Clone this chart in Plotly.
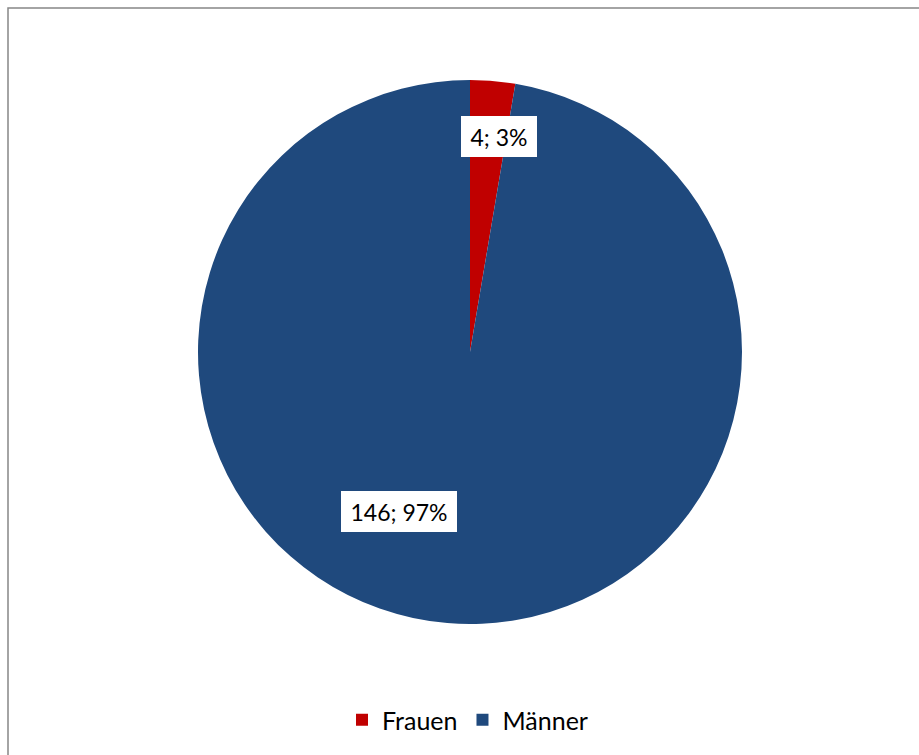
import plotly.graph_objects as go

categories = ["Frauen", "Männer"]
values = [4, 146]
colors = ["#C00000", "#1F497D"]

W, H = 919, 755
cx, cy, r = 470, 352, 272

total = sum(values)
label_texts = [f"{v}; {round(v / total * 100)}%" for v in values]
# label box centres in pixels (layout), as placed in the reference
label_px = [(499, 136.5), (399, 511.5)]
label_w = [76, 116]

fig = go.Figure(go.Pie(
    labels=categories,
    values=values,
    sort=False,
    direction="clockwise",
    rotation=0,
    marker=dict(colors=colors, line=dict(width=0)),
    textinfo="none",
    hoverinfo="label+value+percent",
    domain=dict(x=[(cx - r) / W, (cx + r) / W], y=[1 - (cy + r) / H, 1 - (cy - r) / H]),
))

annotations = []
for t, (px, py), w in zip(label_texts, label_px, label_w):
    annotations.append(dict(
        text=t, xref="paper", yref="paper", x=px / W, y=1 - py / H,
        xanchor="center", yanchor="middle", showarrow=False,
        bgcolor="white", borderpad=0, borderwidth=0, width=w, height=41,
        font=dict(family="Lato", size=23, color="#000000"),
    ))

fig.update_layout(
    width=W, height=H,
    margin=dict(l=0, r=0, t=0, b=0),
    paper_bgcolor="white",
    plot_bgcolor="white",
    showlegend=True,
    legend=dict(orientation="h", x=0.5 + 8 / W, xanchor="center", y=1 - 720 / H, yanchor="middle",
                font=dict(family="Lato", size=25, color="#000000"), itemwidth=30),
    annotations=annotations,
    shapes=[dict(type="rect", xref="paper", yref="paper", x0=8 / W, x1=1.05, y0=-0.05, y1=1 - 8 / H,
                 line=dict(color="#878787", width=1.5), layer="below")],
)

fig.write_html("out.html", config={"displayModeBar": False},
               post_script="document.body.style.margin='0px';document.body.style.overflow='hidden';")
